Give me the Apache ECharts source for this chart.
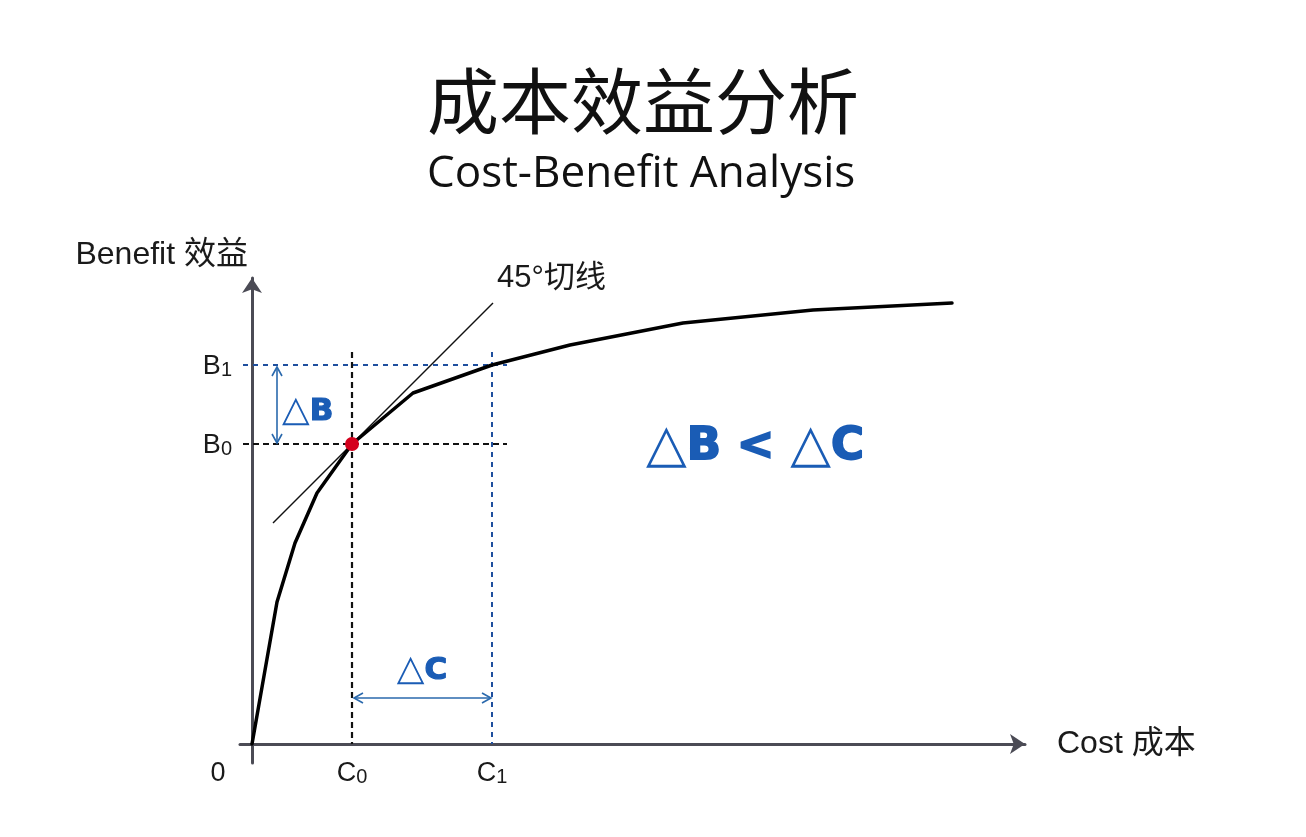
<!DOCTYPE html>
<html>
<head>
<meta charset="utf-8">
<script src="https://cdn.jsdelivr.net/npm/echarts@6/dist/echarts.min.js"></script>
<style>
html,body{margin:0;padding:0;background:#fff;}
#chart{width:1306px;height:837px;}
</style>
</head>
<body>
<div id="chart"></div>
<script>
// ---- data ----
const costs    = [0, 2.5, 4.3, 6.5, 10, 16.1, 24, 31.8, 43.1, 56.1, 70];
const benefits = [0, 14.2, 20.1, 25.1, 30, 35.1, 37.9, 39.9, 42.1, 43.4, 44.1];
const C0 = 10, B0 = 30;
const C1 = 24, B1 = 37.9;
const tangentCosts = [2.1, 24.1];            // tangent drawn between these costs, slope 1 through (C0,B0)
const titleText = '成本效益分析';
const subtitleText = 'Cost-Benefit Analysis';
const xName = 'Cost 成本';
const yName = 'Benefit 效益';
const tangentName = '45°切线';

// ---- build ----
const curveData = costs.map((c, i) => [c, benefits[i]]);
const tangentData = tangentCosts.map(c => [c, B0 + (c - C0)]);

const BLUE_TXT = '#1a5cb5';
const BLUE_DASH = '#1f4f9e';
const BLUE_ARROW = '#2a69ad';
const LATIN = '"Liberation Sans", "Noto Sans CJK SC", sans-serif';
const BOLD = '"DejaVu Sans", "Liberation Sans", sans-serif';

const hLineLeft = -0.9, lineRight = 25.5, vLineTop = 39.2;

function dashed(data, color, dash, width) {
  return {
    type: 'line', data: data, symbol: 'none', silent: true, z: 3,
    lineStyle: { color: color, width: width, type: dash }, animation: false
  };
}

const subRich = {
  m: { fontSize: 27, lineHeight: 30, verticalAlign: 'bottom', color: '#1a1a1a', fontFamily: LATIN },
  s: { fontSize: 20, lineHeight: 24, verticalAlign: 'bottom', color: '#1a1a1a', fontFamily: LATIN }
};
function deltaRich(triSize, boldSize, border) {
  return {
    t: { fontSize: triSize, fontFamily: '"DejaVu Sans"', color: BLUE_TXT },
    b: { fontSize: boldSize, fontWeight: 'bold', fontFamily: BOLD, color: BLUE_TXT, textBorderColor: BLUE_TXT, textBorderWidth: border }
  };
}

const labels = [
  { value: [0, 0], label: { formatter: '{m|0}', position: 'bottom', distance: 13, offset: [-34, 0], rich: subRich } },
  { value: [C0, 0], label: { formatter: '{m|C}{s|0}', position: 'bottom', distance: 13, rich: subRich } },
  { value: [C1, 0], label: { formatter: '{m|C}{s|1}', position: 'bottom', distance: 13, rich: subRich } },
  { value: [0, B0], label: { formatter: '{m|B}{s|0}', position: 'left', distance: 20, rich: subRich } },
  { value: [0, B1], label: { formatter: '{m|B}{s|1}', position: 'left', distance: 20, rich: subRich } },
  { value: [2.5, (B0 + B1) / 2], label: { formatter: '{t|△}{b|B}', position: 'right', distance: 5, offset: [0, 7],
      rich: deltaRich(36, 31, 1.2) } },
  { value: [(C0 + C1) / 2, 4.6], label: { formatter: '{t|△}{b|C}', position: 'top', distance: 9,
      rich: deltaRich(36, 31, 1.2) } },
  { value: [50.3, B0], label: { formatter: '{t|△}{b|B}{b| < }{t|△}{b|C}', position: 'inside', offset: [0, 3],
      rich: deltaRich(53, 45, 1.8) } },
  { value: tangentData[1], label: { formatter: tangentName, position: [4, -40], align: 'left', verticalAlign: 'top',
      fontSize: 31, color: '#1a1a1a', fontFamily: LATIN } }
];

const option = {
  backgroundColor: '#fff',
  animation: false,
  title: [
    { text: titleText, left: 422, top: 60, textStyle: { fontSize: 72, fontWeight: 'normal', color: '#111', fontFamily: '"Noto Sans CJK SC", sans-serif' } },
    { text: subtitleText, left: 422, top: 147, textStyle: { fontSize: 44, fontWeight: 'normal', color: '#111', fontFamily: '"Open Sans", "Noto Sans", sans-serif' } }
  ],
  grid: { left: 240, right: 281, top: 278, bottom: 74 },
  xAxis: {
    type: 'value', min: -1.2, max: 77.3,
    axisLine: { onZero: true, symbol: ['none', 'arrow'], symbolSize: [15, 15], lineStyle: { color: '#4b4b55', width: 3 } },
    axisTick: { show: false }, axisLabel: { show: false }, splitLine: { show: false },
    name: xName, nameLocation: 'end', nameGap: 32,
    nameTextStyle: { fontSize: 32, color: '#1a1a1a', fontFamily: LATIN, verticalAlign: 'middle', align: 'left', padding: [4, 0, 0, 0] }
  },
  yAxis: {
    type: 'value', min: -1.9, max: 46.6,
    axisLine: { onZero: true, symbol: ['none', 'arrow'], symbolSize: [15, 15], lineStyle: { color: '#4b4b55', width: 3 } },
    axisTick: { show: false }, axisLabel: { show: false }, splitLine: { show: false },
    name: yName, nameLocation: 'end', nameGap: 7,
    nameTextStyle: { fontSize: 32, color: '#1a1a1a', fontFamily: LATIN, align: 'right', verticalAlign: 'bottom', padding: [0, 4, 0, 0] }
  },
  series: [
    dashed([[hLineLeft, B1], [lineRight, B1]], BLUE_DASH, [5, 5], 2),
    dashed([[C1, vLineTop], [C1, 0]], BLUE_DASH, [5, 5], 2),
    dashed([[hLineLeft, B0], [lineRight, B0]], '#111', [6, 4], 2.2),
    dashed([[C0, vLineTop], [C0, 0]], '#111', [6, 4], 2.2),
    {
      type: 'line', data: tangentData, symbol: 'none', silent: true, z: 4,
      lineStyle: { color: '#111', width: 1.5 }
    },
    {
      type: 'line', data: curveData, symbol: 'none', silent: true, z: 5,
      lineStyle: { color: '#000', width: 3.5, join: 'round', cap: 'round' }
    },
    {
      type: 'custom', z: 6, silent: true,
      data: [[2.5, 37.7, 2.5, 30.1], [10.2, 4.6, 23.9, 4.6]],
      encode: { x: [0, 2], y: [1, 3] },
      renderItem: function (params, api) {
        const p1 = api.coord([api.value(0), api.value(1)]);
        const p2 = api.coord([api.value(2), api.value(3)]);
        const dx = p2[0] - p1[0], dy = p2[1] - p1[1];
        const len = Math.sqrt(dx * dx + dy * dy);
        const ux = dx / len, uy = dy / len, nx = -uy, ny = ux;
        const L = 9, W = 5;
        const head = (p, s) => [
          [p[0] - s * ux * L + nx * W, p[1] - s * uy * L + ny * W],
          p,
          [p[0] - s * ux * L - nx * W, p[1] - s * uy * L - ny * W]
        ];
        const st = { stroke: BLUE_ARROW, lineWidth: 1.6, fill: null };
        return {
          type: 'group',
          children: [
            { type: 'line', shape: { x1: p1[0], y1: p1[1], x2: p2[0], y2: p2[1] }, style: st },
            { type: 'polyline', shape: { points: head(p2, 1) }, style: st },
            { type: 'polyline', shape: { points: head(p1, -1) }, style: st }
          ]
        };
      }
    },
    {
      type: 'scatter', data: [[C0, B0]], symbolSize: 14, z: 7, silent: true,
      itemStyle: { color: '#d4001c', opacity: 1 }
    },
    {
      type: 'scatter', data: labels, symbolSize: 0, z: 8, silent: true, clip: false,
      itemStyle: { color: 'rgba(0,0,0,0)', opacity: 1 },
      label: { show: true }
    }
  ]
};

const chart = echarts.init(document.getElementById('chart'), null, { renderer: 'canvas' });
chart.setOption(option);
</script>
</body>
</html>
